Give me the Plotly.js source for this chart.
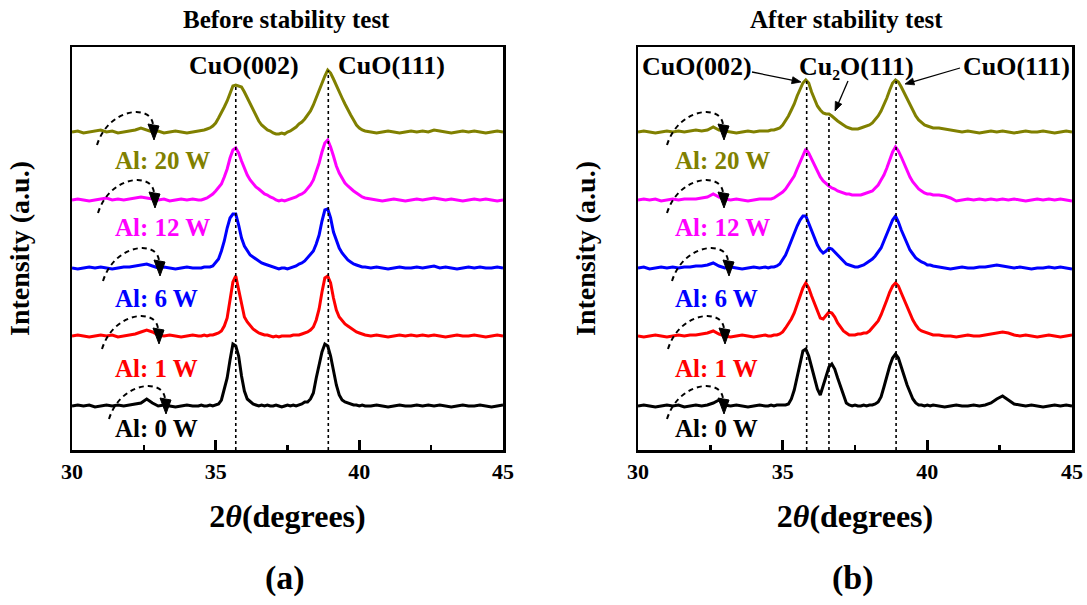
<!DOCTYPE html>
<html>
<head>
<meta charset="utf-8">
<script src="https://cdn.plot.ly/plotly-3.0.1.min.js"></script>
<style>body{margin:0;background:#fff}</style>
</head>
<body>
<div id="chart" style="width:1087px;height:605px"></div>
<script>
// ---------------- DATA ----------------
const twoTheta = [
  30.0,30.2,30.4,30.6,30.8,31.0,31.2,31.4,31.6,31.8,32.0,32.2,32.4,32.6,32.8,33.0,33.2,33.4,33.6,33.8,34.0,34.2,34.4,
  34.5,34.6,34.7,34.8,34.9,
  35.0,35.1,35.2,35.3,35.4,35.5,35.6,35.7,35.8,35.9,
  36.0,36.1,36.2,36.3,36.4,36.5,36.6,36.7,36.8,36.9,
  37.0,37.1,37.2,37.3,37.4,37.5,37.6,37.7,37.8,37.9,
  38.0,38.1,38.2,38.3,38.4,38.5,38.6,38.7,38.8,38.9,
  39.0,39.1,39.2,39.3,39.4,39.5,39.6,39.7,39.8,39.9,
  40.0,40.1,40.2,
  40.4,40.6,40.8,41.0,41.2,41.4,41.6,41.8,42.0,42.2,42.4,42.6,42.8,43.0,43.2,43.4,43.6,43.8,44.0,44.2,44.4,44.6,44.8,45.0
];

// Before stability test (intensity above each trace's own baseline, a.u.)
const beforeAl20W = [
  0,1,-1,0,1,2,0,1,-1,0,1,2,4,2,0,1,-1,0,1,0,-1,0,1,
  1,2,3,4,6,
  9,14,19,25,31,39,46,47,46,45,
  40,34,28,22,16,11,7,4,2,1,
  -1,-2,-2,-1,-2,0,1,3,5,8,
  10,13,17,21,27,34,42,50,56,62,
  59,53,46,40,34,28,22,17,12,7,
  4,2,1,
  0,-1,0,1,0,-1,0,1,0,1,0,2,1,0,-1,0,1,0,1,0,-1,0,1,0
];
const beforeAl12W = [
  0,1,0,-1,0,1,2,0,1,0,1,2,3,2,1,0,1,-1,0,1,0,1,0,
  0,1,2,4,6,
  9,12,16,23,31,42,50,52,47,39,
  31,25,20,16,13,11,8,6,5,3,
  2,0,-1,0,-1,0,1,2,3,5,
  6,8,11,15,20,28,37,48,57,60,
  53,44,34,27,22,17,14,11,9,7,
  5,3,2,
  1,0,-1,0,1,0,-1,0,1,0,1,2,1,0,1,0,-1,0,1,0,1,0,-1,0
];
const beforeAl6W = [
  0,-1,0,1,0,1,0,-1,0,1,1,2,3,4,2,0,1,0,-1,0,1,0,0,
  0,1,1,1,2,
  5,9,17,27,40,50,54,54,43,30,
  22,17,13,11,9,7,5,4,3,2,
  1,0,-1,0,0,-1,0,1,2,4,
  5,7,10,13,17,24,33,47,58,59,
  50,36,27,20,15,11,8,6,4,3,
  2,1,1,
  0,1,0,-1,0,1,0,0,1,0,1,2,0,1,0,-1,0,1,0,1,0,0,1,0
];
const beforeAl1W = [
  0,1,0,-1,0,1,0,1,-1,0,1,2,4,6,4,1,0,1,0,-1,0,1,0,
  0,1,0,1,1,
  2,3,5,10,18,36,54,60,46,31,
  19,14,10,7,5,3,2,1,1,0,
  -1,0,-1,0,0,0,0,1,1,1,
  2,3,4,6,9,16,27,44,58,60,
  53,38,26,19,15,12,10,8,6,4,
  3,2,1,
  0,1,0,-1,0,1,0,1,0,1,0,1,0,-1,0,1,0,0,1,0,-1,0,1,0
];
const beforeAl0W = [
  0,1,0,1,-1,0,1,0,1,0,1,2,3,7,3,0,1,0,-1,0,1,0,0,
  1,0,0,1,0,
  1,2,6,16,28,46,62,60,50,30,
  15,7,4,2,1,0,1,0,1,0,
  0,1,0,-1,0,1,0,1,0,1,
  2,4,4,7,13,28,43,54,62,60,
  50,36,21,11,6,4,3,2,1,1,
  0,1,0,
  0,1,0,-1,0,1,0,0,1,0,1,0,1,0,-1,0,1,0,0,1,0,-1,0,1
];

// After stability test
const afterAl20W = [
  0,1,0,-1,0,1,0,1,0,1,2,1,2,5,2,1,0,-1,0,1,0,1,1,
  1,2,2,3,4,
  7,11,16,22,28,36,43,49,52,49,
  40,32,26,22,19,18,18,16,13,11,
  9,7,5,4,3,3,3,4,5,6,
  7,9,12,16,21,27,34,42,49,52,
  50,45,39,33,27,21,16,12,9,7,
  6,5,4,
  4,3,2,1,0,1,0,-1,0,1,0,1,0,-1,0,1,0,0,1,0,-1,0,1,0
];
const afterAl12W = [
  0,1,0,1,-1,0,1,0,1,1,1,2,3,6,3,1,0,1,0,-1,0,1,1,
  1,1,2,4,6,
  8,11,15,19,24,31,38,45,51,47,
  41,35,29,23,19,16,14,12,11,9,
  8,7,6,6,5,5,5,5,6,7,
  8,9,12,15,20,25,32,40,48,53,
  49,43,36,29,23,18,14,11,9,7,
  6,6,5,
  5,4,2,-1,0,1,0,1,0,1,0,1,0,1,0,-1,0,1,0,1,0,1,0,-1
];
const afterAl6W = [
  0,1,-1,0,1,0,1,0,1,1,2,2,3,5,2,0,1,0,-1,0,1,0,1,
  0,1,1,2,4,
  8,13,20,28,35,42,48,52,52,45,
  38,30,23,18,15,17,20,19,16,13,
  9,6,4,3,2,1,1,2,3,5,
  7,9,12,16,20,27,34,41,48,52,
  46,38,31,24,18,14,10,8,6,5,
  3,3,2,
  1,0,-1,0,1,0,0,1,1,2,3,2,1,0,1,0,-1,0,0,1,0,1,0,-1
];
const afterAl1W = [
  0,-1,0,1,0,-1,0,1,0,1,1,2,3,5,2,0,-1,0,1,0,-1,0,1,
  0,0,1,1,2,
  4,8,12,17,23,31,39,48,53,48,
  40,32,24,18,17,21,24,23,19,13,
  9,5,3,1,1,1,2,2,3,3,
  5,8,11,15,21,28,36,44,50,53,
  50,43,36,29,22,16,11,7,5,4,
  3,2,1,
  1,0,0,-1,0,1,0,0,1,2,3,4,3,1,0,1,0,-1,0,1,0,-1,0,1
];
const afterAl0W = [
  0,1,0,-1,0,1,0,1,-1,0,1,0,1,3,6,1,0,1,0,-1,0,1,0,
  0,1,0,1,1,
  1,1,2,7,16,30,43,55,57,50,
  39,28,17,11,20,30,39,42,37,28,
  19,10,3,1,0,1,0,0,1,0,
  1,1,2,4,9,19,30,40,48,52,
  48,40,30,21,13,7,3,1,1,0,
  1,0,1,
  0,-1,0,1,0,0,1,0,1,3,7,10,6,2,1,0,1,0,-1,0,1,0,1,0
];

const seriesLabels = ['Al: 20 W', 'Al: 12 W', 'Al: 6 W', 'Al: 1 W', 'Al: 0 W'];
const stackOffsets = [318, 250, 182, 114, 44];
const panelTitles = ['Before stability test', 'After stability test'];
const panelLetters = ['(a)', '(b)'];
const peakPositionsBefore = [35.70, 38.92];
const peakPositionsAfter = [35.83, 36.60, 38.92];
const peakLabelsBefore = ['CuO(002)', 'CuO(111)'];
const peakLabelsAfter = ['CuO(002)', 'Cu₂O(111)', 'CuO(111)'];
const xTickValues = [30, 35, 40, 45];
const xAxisTitle = '2<i>θ</i>(degrees)';
const yAxisTitle = 'Intensity (a.u.)';

// ---------------- STYLE / GEOMETRY ----------------
const SERIF = '"Liberation Serif", "Times New Roman", Times, serif';
const colors = ['#808000', '#ff00ff', '#0000ff', '#ff0000', '#000000'];
const W = 1087, H = 605, PLOT_TOP = 47, PLOT_BOTTOM = 450;
const panelPx = [{left: 72, right: 503}, {left: 638, right: 1072}];
const beforeSeries = [beforeAl20W, beforeAl12W, beforeAl6W, beforeAl1W, beforeAl0W];
const afterSeries = [afterAl20W, afterAl12W, afterAl6W, afterAl1W, afterAl0W];
[...beforeSeries, ...afterSeries].forEach((s, i) => {
  if (s.length !== twoTheta.length) throw new Error('series ' + i + ' has ' + s.length + ' values');
});

function toData(p, px, py) {
  const g = panelPx[p];
  return [30 + (px - g.left) * 15 / (g.right - g.left), PLOT_BOTTOM - py];
}
function toPaper(px, py) {
  return [px / W, (PLOT_BOTTOM - py) / (PLOT_BOTTOM - PLOT_TOP)];
}
function interp(xs, ys, x) {
  for (let i = 0; i < xs.length - 1; i++) {
    if (x >= xs[i] && x <= xs[i + 1]) {
      const t = (x - xs[i]) / (xs[i + 1] - xs[i]);
      return ys[i] + t * (ys[i + 1] - ys[i]);
    }
  }
  return ys[ys.length - 1];
}

const traces = [];
[beforeSeries, afterSeries].forEach((set, p) => {
  set.forEach((vals, i) => {
    traces.push({
      x: twoTheta,
      y: vals.map(v => v + stackOffsets[i]),
      xaxis: p ? 'x2' : 'x', yaxis: p ? 'y2' : 'y',
      type: 'scatter', mode: 'lines',
      name: (p ? 'After ' : 'Before ') + seriesLabels[i],
      line: {color: colors[i], width: 3},
      hoverinfo: 'skip'
    });
  });
});

const shapes = [];
const annotations = [];

// dashed reference lines from axis to top curve
[[peakPositionsBefore, beforeSeries], [peakPositionsAfter, afterSeries]].forEach(([pos, set], p) => {
  pos.forEach(x0 => {
    const top = interp(twoTheta, set[0], x0) + stackOffsets[0];
    shapes.push({type: 'line', xref: p ? 'x2' : 'x', yref: p ? 'y2' : 'y',
      x0: x0, x1: x0, y0: 0, y1: top, layer: 'above',
      line: {color: 'black', width: 1.6, dash: '3px,3px'}});
  });
});

// dashed curved arrows (pixel anchors: start x, baseline y)
const arcAnchors = [
  [[97,132],[98,200],[103,268],[102,336],[109,406]],
  [[667,132],[667,200],[672,268],[668,336],[667,406]]
];
arcAnchors.forEach((list, p) => {
  list.forEach(([sx, b]) => {
    const pt = (dx, dy) => toData(p, sx + dx, b + dy).join(',');
    const xr = p ? 'x2' : 'x', yr = p ? 'y2' : 'y';
    shapes.push({type: 'path', xref: xr, yref: yr, layer: 'above',
      path: 'M' + pt(0, 13) + ' C' + pt(12, -25) + ' ' + pt(55, -28) + ' ' + pt(56, -7),
      line: {color: 'black', width: 2, dash: '5px,4px'}});
    shapes.push({type: 'path', xref: xr, yref: yr, layer: 'above',
      path: 'M' + pt(51, -8) + ' L' + pt(62, -6) + ' L' + pt(57, 8) + ' Z',
      fillcolor: 'black', line: {color: 'black', width: 1}});
  });
});

// peak labels
const peakLabelPx = [[[244, 65], [391, 65]], [[697, 66], [856, 66], [1016, 66]]];
[peakLabelsBefore, peakLabelsAfter].forEach((labs, p) => {
  labs.forEach((t, i) => {
    const [x, y] = toData(p, peakLabelPx[p][i][0], peakLabelPx[p][i][1]);
    annotations.push({xref: p ? 'x2' : 'x', yref: p ? 'y2' : 'y', x: x, y: y,
      xanchor: 'center', yanchor: 'middle',
      text: '<b>' + t + '</b>', showarrow: false,
      font: {family: SERIF, size: 26, color: 'black'}});
  });
});

// arrows to peaks (after panel), drawn as line + filled head
const arrowPx = [[752, 72, 801, 82], [848, 81, 835, 111], [960, 68, 905, 84]];
arrowPx.forEach(([tx, ty, hx, hy]) => {
  const len = Math.hypot(hx - tx, hy - ty);
  const dx = (hx - tx) / len, dy = (hy - ty) / len;
  const nx = -dy, ny = dx;
  const bx = hx - dx * 9, by = hy - dy * 9;
  const d = (px, py) => toData(1, px, py).join(',');
  shapes.push({type: 'path', xref: 'x2', yref: 'y2', layer: 'above',
    path: 'M' + d(tx, ty) + ' L' + d(bx + dx, by + dy),
    line: {color: 'black', width: 1.3}});
  shapes.push({type: 'path', xref: 'x2', yref: 'y2', layer: 'above',
    path: 'M' + d(hx, hy) + ' L' + d(bx + nx * 3.5, by + ny * 3.5) + ' L' + d(bx - nx * 3.5, by - ny * 3.5) + ' Z',
    fillcolor: 'black', line: {color: 'black', width: 0.8}});
});

// series labels
const seriesLabelY = [160, 227, 298, 368, 428];
const seriesLabelX = [113, 673];
[0, 1].forEach(p => {
  seriesLabels.forEach((t, i) => {
    const [x, y] = toData(p, seriesLabelX[p], seriesLabelY[i]);
    annotations.push({xref: p ? 'x2' : 'x', yref: p ? 'y2' : 'y', x: x, y: y,
      xanchor: 'left', yanchor: 'middle', text: '<b>' + t + '</b>', showarrow: false,
      font: {family: SERIF, size: 25, color: colors[i]}});
  });
});

// panel titles, letters
function paperText(px, py, text, size, angle) {
  const [x, y] = toPaper(px, py);
  annotations.push({xref: 'paper', yref: 'paper', x: x, y: y, text: text,
    xanchor: 'center', yanchor: 'middle',
    showarrow: false, textangle: angle || 0,
    font: {family: SERIF, size: size, color: 'black'}});
}
paperText(286, 20, '<b>' + panelTitles[0] + '</b>', 25);
paperText(846, 20, '<b>' + panelTitles[1] + '</b>', 25);
paperText(285, 578, '<b>' + panelLetters[0] + '</b>', 34);
paperText(853, 578, '<b>' + panelLetters[1] + '</b>', 34);

function xAxis(p) {
  const g = panelPx[p];
  return {
    domain: [g.left / W, g.right / W], range: [30, 45], anchor: p ? 'y2' : 'y',
    showline: true, mirror: true, linewidth: 2.5, linecolor: 'black',
    showgrid: false, zeroline: false,
    tickmode: 'array', tickvals: xTickValues, ticktext: xTickValues.map(v => '<b>' + v + '</b>'),
    ticks: 'inside', ticklen: 10, tickwidth: 2.5, tickcolor: 'black',
    minor: {ticks: 'inside', ticklen: 5, tickwidth: 2.5, tickcolor: 'black', dtick: 2.5, tick0: 30, showgrid: false},
    tickfont: {family: SERIF, size: 22, color: 'black'},
    ticklabelstandoff: 0,
    title: {text: '<b>' + xAxisTitle + '</b>', font: {family: SERIF, size: 32, color: 'black'}, standoff: 22},
    fixedrange: true
  };
}
function yAxis(p) {
  return {
    domain: [0, 1], range: [0, PLOT_BOTTOM - PLOT_TOP], anchor: p ? 'x2' : 'x',
    showline: true, mirror: true, linewidth: 2.5, linecolor: 'black',
    showgrid: false, zeroline: false, showticklabels: false, ticks: '',
    title: {text: '<b>' + yAxisTitle + '</b>', font: {family: SERIF, size: 28, color: 'black'}, standoff: 32},
    fixedrange: true
  };
}

const layout = {
  width: W, height: H,
  margin: {l: 0, r: 0, t: PLOT_TOP, b: H - PLOT_BOTTOM, pad: 0},
  paper_bgcolor: 'white', plot_bgcolor: 'white',
  showlegend: false,
  font: {family: SERIF, color: 'black'},
  xaxis: xAxis(0), yaxis: yAxis(0),
  xaxis2: xAxis(1), yaxis2: yAxis(1),
  shapes: shapes, annotations: annotations
};

Plotly.newPlot('chart', traces, layout, {staticPlot: true, displayModeBar: false});
</script>
</body>
</html>
